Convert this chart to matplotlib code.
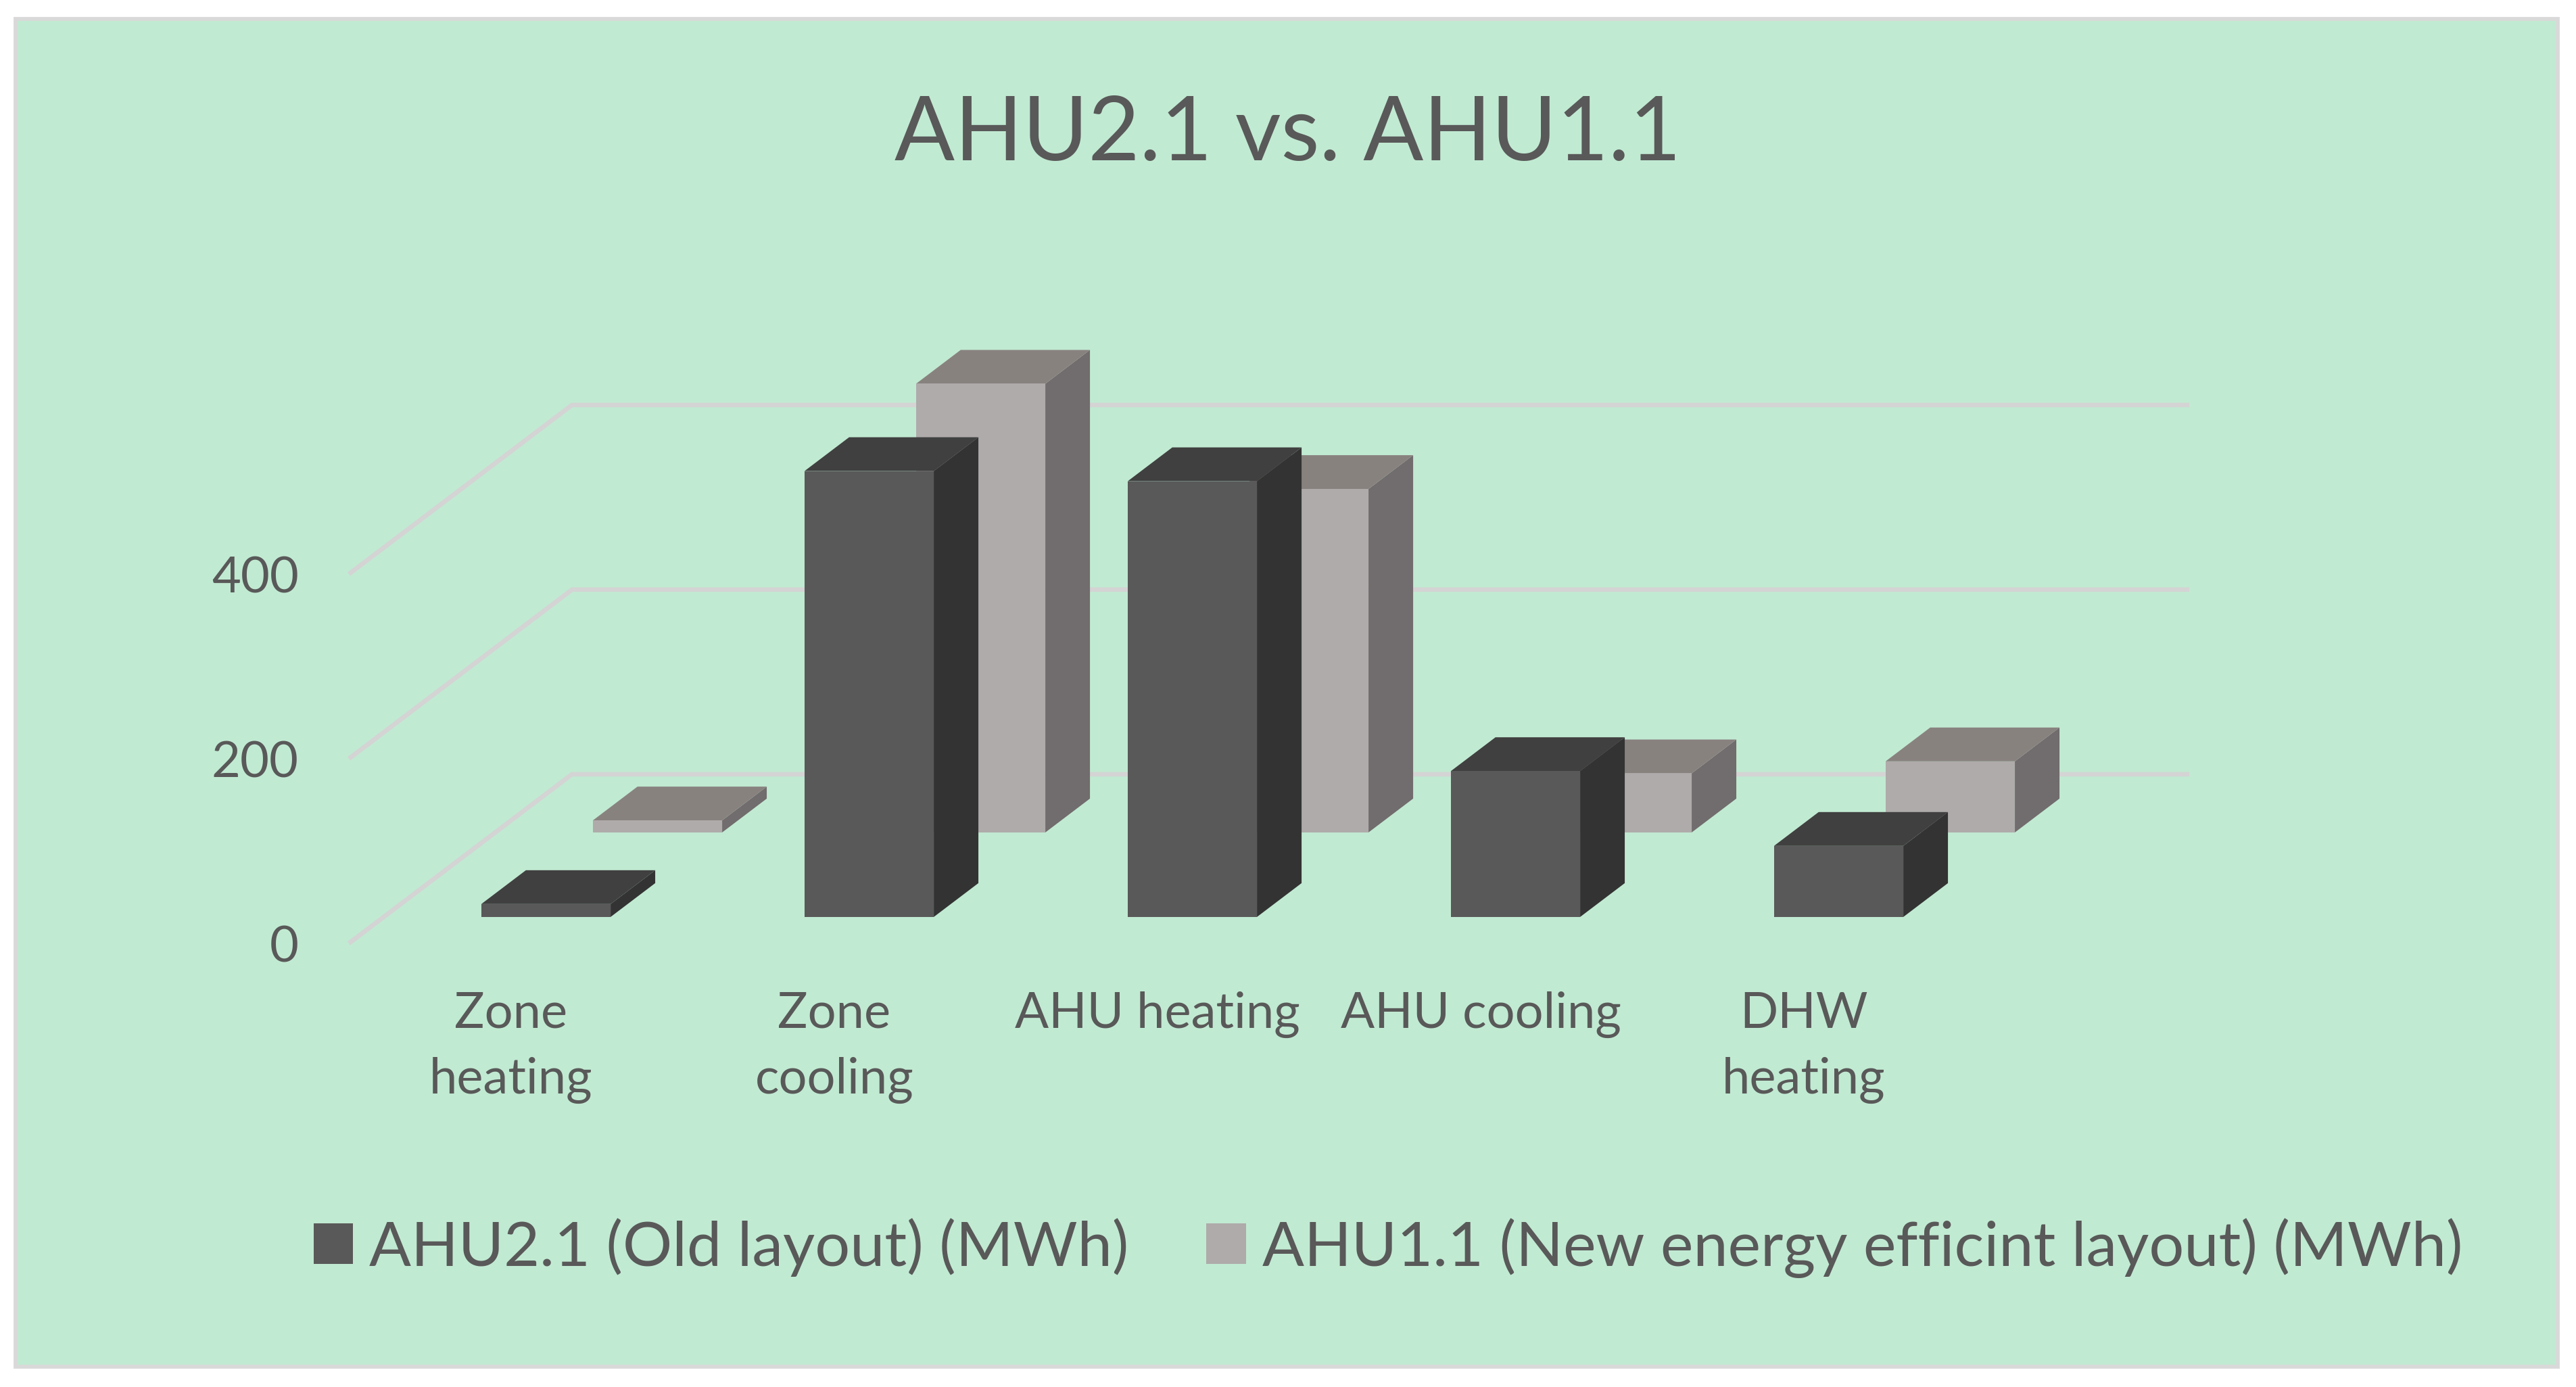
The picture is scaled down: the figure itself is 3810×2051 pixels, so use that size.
import matplotlib
matplotlib.use('Agg')
import matplotlib.pyplot as plt
from matplotlib.patches import Patch, Rectangle

categories = ['Zone\nheating', 'Zone\ncooling', 'AHU heating', 'AHU cooling', 'DHW\nheating']
old_layout = [14, 483, 472, 158, 77]
new_layout = [13, 486, 372, 64, 77]
y_ticks = [0, 200, 400]
series_names = ['AHU2.1 (Old layout) (MWh)', 'AHU1.1 (New energy efficint layout) (MWh)']

W, H = 3810, 2051
plt.rcParams['font.family'] = ['Lato', 'DejaVu Sans']
text_color = '#595959'

# oblique fake 3D: depth 0..1 moves a point right and up on screen
PX_PER_CAT = 478.0
PX_PER_MWH = 1.365
DEPTH_X = 330.0 / PX_PER_CAT
DEPTH_Y = 250.0 / PX_PER_MWH
BAR_W = 0.4
BAR_DEPTH = 0.2


def proj(x, y, d):
    return x + d * DEPTH_X, y + d * DEPTH_Y


def draw_bar(ax, i, val, d0, face, side, top, z):
    x0, x1 = i - BAR_W / 2, i + BAR_W / 2
    d1 = d0 + BAR_DEPTH
    front = [proj(x0, 0, d0), proj(x1, 0, d0), proj(x1, val, d0), proj(x0, val, d0)]
    right = [proj(x1, 0, d0), proj(x1, 0, d1), proj(x1, val, d1), proj(x1, val, d0)]
    cap = [proj(x0, val, d0), proj(x1, val, d0), proj(x1, val, d1), proj(x0, val, d1)]
    for pts, c in [(right, side), (cap, top), (front, face)]:
        ax.fill(*zip(*pts), color=c, lw=0, zorder=z)


fig = plt.figure(figsize=(W / 300, (H + 0.2) / 300), dpi=300, facecolor='white')
fig.patches.append(Rectangle((23 / W, 1 - 2021 / H), 3760 / W, 1993 / H, transform=fig.transFigure,
                             facecolor='#c1ead2', edgecolor='#d9d9d9', linewidth=1.4, zorder=-1))

# axes box in pixels, limits follow from the pixel scales
left, right, top, bottom = 500, 3300, 480, 1420
ax = fig.add_axes([left / W, 1 - bottom / H, (right - left) / W, (bottom - top) / H])
ax.patch.set_visible(False)
ax.set_xlim((left - 756) / PX_PER_CAT, (right - 756) / PX_PER_CAT)
ax.set_ylim((1395 - bottom) / PX_PER_MWH, (1395 - top) / PX_PER_MWH)

x_end = (3238 - 756) / PX_PER_CAT
x_start = (516 - 756) / PX_PER_CAT
for t in y_ticks:
    a = proj(x_start, t, 0)
    b = proj(x_start, t, 1)
    ax.plot([a[0], b[0], x_end], [a[1], b[1], b[1]], color='#d4d4d4', lw=1.6, zorder=1,
            solid_joinstyle='miter', solid_capstyle='butt')

for i, v in enumerate(new_layout):
    draw_bar(ax, i, v, 0.656, '#afabab', '#716c6d', '#88827f', 2)
for i, v in enumerate(old_layout):
    draw_bar(ax, i, v, 0.156, '#595959', '#333333', '#404040', 3)

for s in ax.spines.values():
    s.set_visible(False)
ax.set_xticks(range(len(categories)))
ax.set_xticklabels(categories, fontsize=17.8, color=text_color, linespacing=1.56)
ax.set_yticks(y_ticks)
ax.set_yticklabels([str(t) for t in y_ticks], fontsize=17.8, color=text_color)
ax.tick_params(axis='x', length=0, pad=11)
ax.tick_params(axis='y', length=0, pad=14)

fig.text(1905 / W, 1 - 200 / H, 'AHU2.1 vs. AHU1.1', ha='center', va='center', fontsize=31.6, color=text_color)

handles = [Patch(color='#595959', lw=0), Patch(color='#afabab', lw=0)]
fig.legend(handles, series_names, loc='center', bbox_to_anchor=(2053 / W, 1 - 1845 / H), ncol=2,
           frameon=False, fontsize=22, labelcolor=text_color, handlelength=0.64, handleheight=0.62,
           handletextpad=0.26, columnspacing=1.25, borderpad=0, borderaxespad=0)

fig.savefig('out.png', dpi=300, facecolor='white')
